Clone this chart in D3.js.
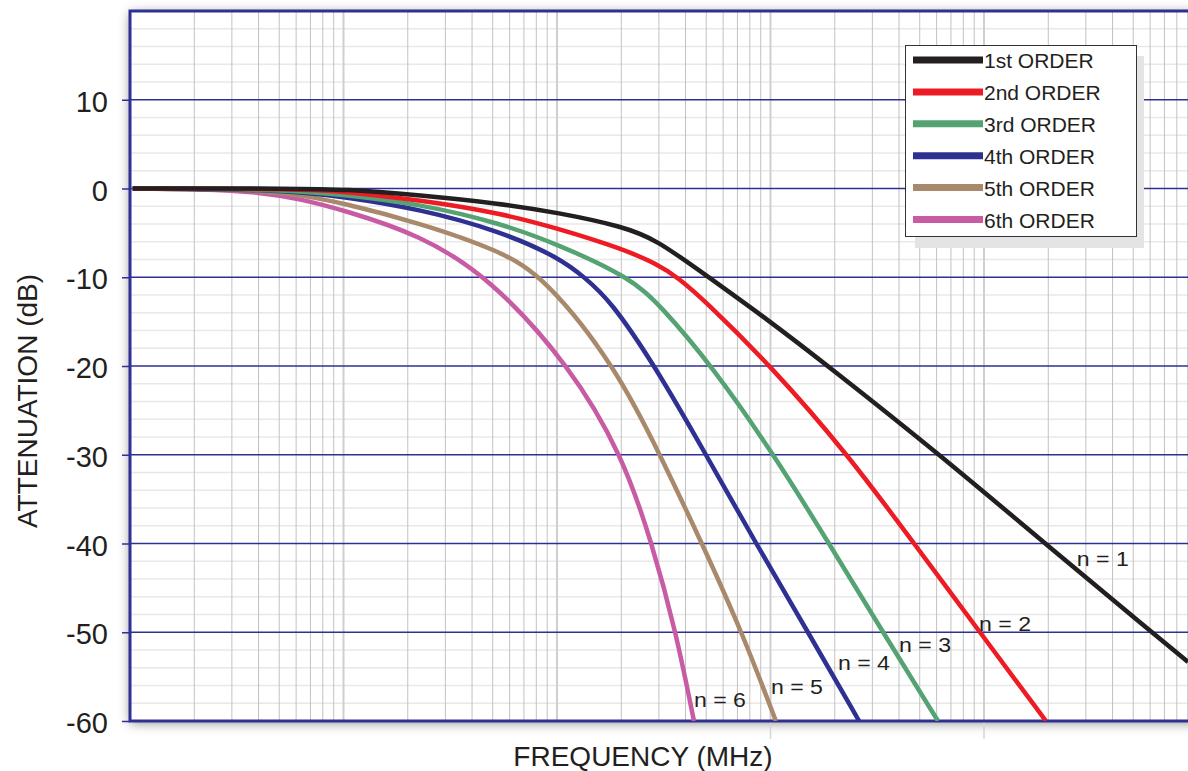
<!DOCTYPE html>
<html>
<head>
<meta charset="utf-8">
<script src="https://cdn.jsdelivr.net/npm/d3@7"></script>
<style>
  body { margin: 0; background: #fff; }
  svg { display: block; font-family: "Liberation Sans", Arial, Helvetica, sans-serif; }
</style>
</head>
<body>
<svg id="chart" width="1188" height="771"></svg>
<script>
// Series: [frequency (MHz), attenuation (dB)]
const order1 = [[0.0103, 0], [0.0626, 0], [0.0995, -0.09], [0.228, -0.73], [0.541, -1.69], [1.03, -2.76],
  [2.04, -4.28], [2.94, -5.83], [4.68, -9.3], [10.05, -15.04], [18.6, -20], [62.2, -30],
  [193, -40], [612, -50], [903, -53.35]]
const order2 = [[0.0103, 0], [0.0626, -0.03], [0.0995, -0.34], [0.228, -1.3], [0.541, -2.76], [1.03, -4.56],
  [2.04, -6.82], [2.94, -8.51], [3.69, -10.05], [4.83, -12.45], [10.05, -20], [23.1, -30],
  [47.0, -40], [95.8, -50], [195, -60]]
const order3 = [[0.0103, 0], [0.0504, -0.08], [0.0995, -0.68], [0.228, -1.75], [0.541, -3.89], [1.03, -6.37],
  [2.2, -10.05], [3.04, -13.13], [5.32, -20], [10.39, -30], [18.8, -40], [33.65, -50], [60.9, -60]]
const order4 = [[0.0103, 0], [0.0504, -0.11], [0.0995, -0.9], [0.228, -2.31], [0.541, -4.79], [1.03, -7.83],
  [1.35, -10.05], [1.77, -12.56], [2.88, -20], [4.99, -30], [8.55, -40], [15.0, -50], [26.0, -60]]
const order5 = [[0.0103, 0], [0.0365, -0.11], [0.0626, -0.73], [0.0995, -1.63], [0.228, -3.89], [0.541, -7.0],
  [0.879, -10.05], [1.87, -20], [3.04, -30], [4.78, -40], [7.36, -50], [10.6, -60]]
const order6 = [[0.0103, 0], [0.0213, -0.06], [0.0406, -0.39], [0.0626, -1.18], [0.0995, -2.42], [0.228, -5.2],
  [0.486, -10.05], [1.15, -20], [2.02, -30], [2.79, -40], [3.61, -50], [4.38, -60]]

const orderLabels = ["1st ORDER", "2nd ORDER", "3rd ORDER", "4th ORDER", "5th ORDER", "6th ORDER"]
const curveLabels = ["n = 1", "n = 2", "n = 3", "n = 4", "n = 5", "n = 6"]
const yTickValues = [10, 0, -10, -20, -30, -40, -50, -60]

const series = [order1, order2, order3, order4, order5, order6]
const colors = ["#231f20", "#ed1c24", "#55a373", "#2e3192", "#a8896c", "#c75ca5"]
// where each "n = k" label sits (frequency, dB of its baseline)
const labelSpots = [[272, -42.5], [94.8, -49.9], [40.0, -52.25], [20.7, -54.3], [10.05, -57.0], [4.38, -58.4]]

const blue = "#2e3192"
const ink = "#231f20"
const plot = { left: 130, top: 11, right: 1197.5, bottom: 721 }

const svg = d3.select("#chart")

const x = d3.scaleLog().domain([0.01, 1000]).range([plot.left, plot.right])
const y = d3.scaleLinear().domain([20, -60]).range([plot.top, plot.bottom])

// Drop shadow around the plot
const defs = svg.append("defs")
defs.append("filter")
  .attr("id", "shadow")
  .attr("x", "-5%").attr("y", "-5%").attr("width", "110%").attr("height", "110%")
  .append("feDropShadow")
  .attr("dx", 0).attr("dy", 2)
  .attr("stdDeviation", 6)
  .attr("flood-color", "#000")
  .attr("flood-opacity", 0.45)

defs.append("clipPath")
  .attr("id", "plot-clip")
  .append("rect")
  .attr("x", plot.left).attr("y", plot.top)
  .attr("width", plot.right - plot.left).attr("height", plot.bottom - plot.top)

svg.append("rect")
  .attr("x", plot.left).attr("y", plot.top)
  .attr("width", plot.right - plot.left).attr("height", plot.bottom - plot.top)
  .attr("fill", "#fff")
  .attr("filter", "url(#shadow)")

// Minor horizontal grid, every 2 dB
svg.append("g")
  .selectAll("line")
  .data(d3.range(-58, 20, 2).filter(v => v % 10 !== 0))
  .join("line")
  .attr("x1", plot.left).attr("x2", plot.right)
  .attr("y1", d => y(d)).attr("y2", d => y(d))
  .attr("stroke", "#e8e8e8")
  .attr("stroke-width", 1.5)

// Vertical log grid
const isDecade = v => Math.abs(Math.log10(v) - Math.round(Math.log10(v))) < 1e-6
svg.append("g")
  .selectAll("line")
  .data(x.ticks().filter(v => v > 0.01))
  .join("line")
  .attr("x1", d => x(d)).attr("x2", d => x(d))
  .attr("y1", plot.top).attr("y2", plot.bottom)
  .attr("stroke", d => isDecade(d) ? "#cfcfcf" : "#c2c2c2")
  .attr("stroke-width", d => isDecade(d) ? 2 : 1)

// short extensions below the frame
svg.append("g")
  .selectAll("line")
  .data([10, 100])
  .join("line")
  .attr("x1", d => x(d)).attr("x2", d => x(d))
  .attr("y1", plot.bottom).attr("y2", plot.bottom + 18)
  .attr("stroke", "#d6d6d6")
  .attr("stroke-width", 1.5)

// Major horizontal lines every 10 dB
svg.append("g")
  .selectAll("line")
  .data(yTickValues.slice(0, -1))
  .join("line")
  .attr("x1", plot.left).attr("x2", plot.right)
  .attr("y1", d => y(d)).attr("y2", d => y(d))
  .attr("stroke", blue)
  .attr("stroke-width", 1.5)

// Y axis
const yAxis = svg.append("g")
  .attr("transform", `translate(${plot.left},0)`)
  .call(d3.axisLeft(y).tickValues(yTickValues).tickFormat(d => String(d)).tickSize(8).tickPadding(14))
yAxis.select(".domain").remove()
yAxis.selectAll(".tick line").attr("stroke", blue).attr("stroke-width", 1.5)
yAxis.selectAll(".tick text")
  .attr("dy", "0.4em")
  .attr("fill", ink)
  .style("font-size", "29px")
  .style("font-family", "'Liberation Sans', Arial, sans-serif")

// Frame
svg.append("path")
  .attr("d", `M${plot.right},${plot.top}H${plot.left}V${plot.bottom}H${plot.right}`)
  .attr("fill", "none")
  .attr("stroke", blue)
  .attr("stroke-width", 3)

// Curves (B-spline keeps the hand-read points smooth)
const line = d3.line()
  .x(d => x(d[0]))
  .y(d => y(d[1]))
  .curve(d3.curveBasis)

const curves = svg.append("g").attr("clip-path", "url(#plot-clip)")
series.slice().reverse().forEach((data, i) => {
  const k = series.length - 1 - i
  curves.append("path")
    .datum(data)
    .attr("d", line)
    .attr("fill", "none")
    .attr("stroke", colors[k])
    .attr("stroke-width", 4.5)
    .attr("stroke-linejoin", "round")
})

// n = k labels
svg.append("g")
  .selectAll("text")
  .data(curveLabels)
  .join("text")
  .attr("transform", (d, i) => `translate(${x(labelSpots[i][0])},${y(labelSpots[i][1])}) scale(1.1,1)`)
  .attr("fill", ink)
  .style("font-size", "21px")
  .text(d => d)

// Legend
const legend = svg.append("g")
legend.append("rect")
  .attr("x", 915).attr("y", 56)
  .attr("width", 229).attr("height", 192)
  .attr("fill", "#e4e4e4")
legend.append("rect")
  .attr("x", 905.5).attr("y", 45.5)
  .attr("width", 231).attr("height", 191)
  .attr("fill", "#fff")
  .attr("stroke", "#333")
  .attr("stroke-width", 1)

const rows = legend.selectAll("g.row")
  .data(orderLabels)
  .join("g")
  .attr("class", "row")
  .attr("transform", (d, i) => `translate(0,${60 + i * 31.9})`)
rows.append("line")
  .attr("x1", 913).attr("x2", 983)
  .attr("stroke", (d, i) => colors[i])
  .attr("stroke-width", 7)
rows.append("text")
  .attr("x", 984).attr("y", 8)
  .attr("fill", ink)
  .style("font-size", "21px")
  .text(d => d)

// Axis titles
svg.append("text")
  .attr("transform", "translate(37,401) rotate(-90)")
  .attr("text-anchor", "middle")
  .attr("fill", ink)
  .style("font-size", "28px")
  .text("ATTENUATION (dB)")

svg.append("text")
  .attr("x", 643).attr("y", 766)
  .attr("text-anchor", "middle")
  .attr("fill", ink)
  .style("font-size", "28px")
  .text("FREQUENCY (MHz)")
</script>
</body>
</html>
